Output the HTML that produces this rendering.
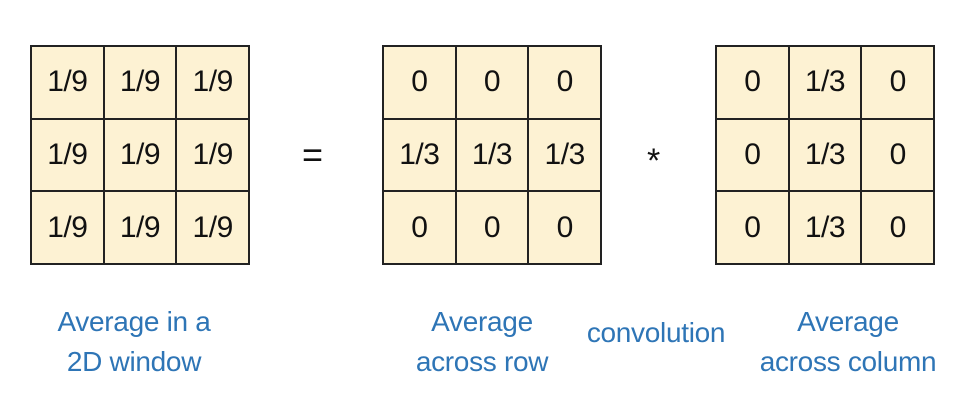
<!DOCTYPE html>
<html><head><meta charset="utf-8"><style>
body{margin:0;width:980px;height:408px;background:#fff;position:relative;overflow:hidden;font-family:"Liberation Sans",sans-serif}
.grid{position:absolute;top:45px;width:220px;height:220px;display:grid;grid-template-columns:repeat(3,1fr);grid-template-rows:repeat(3,1fr);border:1.5px solid #222;box-sizing:border-box;background:#fdf2d3}
.grid div{border:0.75px solid #222;display:flex;align-items:center;justify-content:center;font-size:30px;color:#111;letter-spacing:-0.5px}
.lbl{position:absolute;color:#2e75b6;font-size:28px;text-align:center;line-height:40px;letter-spacing:-0.3px}
.op{position:absolute;font-size:36px;color:#111}
</style></head><body>
<div class="grid" style="left:30px">
<div>1/9</div><div>1/9</div><div>1/9</div><div>1/9</div><div>1/9</div><div>1/9</div><div>1/9</div><div>1/9</div><div>1/9</div></div>
<div class="op" style="left:302px;top:134px">=</div>
<div class="grid" style="left:382px">
<div>0</div><div>0</div><div>0</div><div>1/3</div><div>1/3</div><div>1/3</div><div>0</div><div>0</div><div>0</div></div>
<div class="op" style="left:647px;top:142px;font-size:34px">*</div>
<div class="grid" style="left:715px">
<div>0</div><div>1/3</div><div>0</div><div>0</div><div>1/3</div><div>0</div><div>0</div><div>1/3</div><div>0</div></div>
<div class="lbl" style="left:14px;width:240px;top:302px">Average in a<br>2D window</div>
<div class="lbl" style="left:362px;width:240px;top:302px">Average<br>across row</div>
<div class="lbl" style="left:556px;width:200px;top:313px">convolution</div>
<div class="lbl" style="left:718px;width:260px;top:302px">Average<br>across column</div>
</body></html>
